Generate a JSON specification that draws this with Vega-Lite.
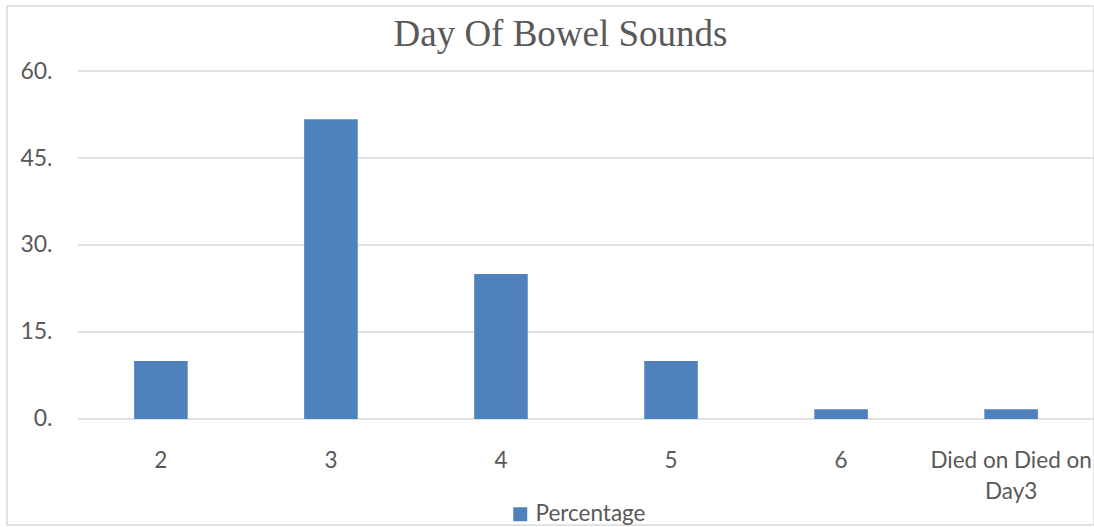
{
  "$schema": "https://vega.github.io/schema/vega-lite/v6.json",
  "width": 1087,
  "height": 519,
  "autosize": {"type": "none"},
  "padding": {"left": 7, "top": 6, "right": 0, "bottom": 2},
  "background": "white",
  "config": {
    "view": {"stroke": "#d9d9d9", "strokeWidth": 1.5},
    "font": "Lato",
    "axisY": {
      "orient": "left",
      "offset": -47,
      "grid": false,
      "domain": false,
      "ticks": false,
      "labelPadding": 2,
      "labelFontSize": 23,
      "labelColor": "#595959",
      "title": null
    }
  },
  "datasets": {
    "days": [
      {"day": "2", "pct": 10.0, "series": "Percentage"},
      {"day": "3", "pct": 51.7, "series": "Percentage"},
      {"day": "4", "pct": 25.0, "series": "Percentage"},
      {"day": "5", "pct": 10.0, "series": "Percentage"},
      {"day": "6", "pct": 1.7, "series": "Percentage"},
      {"day": "Died on Died on Day3", "pct": 1.7, "series": "Percentage"}
    ],
    "grid": [
      {"level": 0},
      {"level": 15},
      {"level": 30},
      {"level": 45},
      {"level": 60}
    ],
    "heading": [
      {"text": "Day Of Bowel Sounds", "at": 64.3}
    ]
  },
  "layer": [
    {
      "data": {"name": "grid"},
      "mark": {"type": "rule", "color": "#d9d9d9", "strokeWidth": 1.5},
      "encoding": {
        "y": {
          "field": "level",
          "type": "quantitative",
          "scale": {"domain": [-18.276, 71.207], "nice": false, "zero": false},
          "axis": {"values": [0, 15, 30, 45, 60], "labelExpr": "datum.value + '.'", "title": null}
        },
        "x": {
          "datum": 0,
          "type": "quantitative",
          "scale": {"domain": [0, 1], "range": [71, 1087]},
          "axis": null
        },
        "x2": {"datum": 1}
      }
    },
    {
      "data": {"name": "days"},
      "mark": {"type": "bar", "color": "#4f81bd"},
      "encoding": {
        "x": {
          "field": "day",
          "type": "nominal",
          "sort": null,
          "scale": {"range": [71, 1087], "paddingInner": 0.685, "paddingOuter": 0.33},
          "axis": {
            "orient": "bottom",
            "offset": -106,
            "title": null,
            "domain": false,
            "ticks": false,
            "labelAngle": 0,
            "labelFontSize": 22.5,
            "labelColor": "#595959",
            "labelPadding": 30,
            "labelLineHeight": 31,
            "labelExpr": "datum.value == 'Died on Died on Day3' ? ['Died on Died on', 'Day3'] : datum.value"
          }
        },
        "y": {
          "field": "pct",
          "type": "quantitative",
          "scale": {"domain": [-18.276, 71.207], "nice": false, "zero": false},
          "axis": {"values": [0, 15, 30, 45, 60], "labelExpr": "datum.value + '.'", "title": null}
        },
        "color": {
          "field": "series",
          "type": "nominal",
          "scale": {"range": ["#4f81bd"]},
          "legend": {
            "orient": "none",
            "legendX": 502,
            "legendY": 497,
            "title": null,
            "symbolType": "square",
            "symbolSize": 196,
            "symbolStrokeWidth": 0,
            "labelFontSize": 22.5,
            "labelColor": "#595959",
            "labelOffset": 4
          }
        }
      }
    },
    {
      "data": {"name": "heading"},
      "mark": {
        "type": "text",
        "font": "Liberation Serif",
        "fontSize": 37,
        "color": "#595959",
        "align": "center",
        "baseline": "alphabetic",
        "dx": 10
      },
      "encoding": {
        "text": {"field": "text", "type": "nominal"},
        "y": {
          "field": "at",
          "type": "quantitative",
          "scale": {"domain": [-18.276, 71.207], "nice": false, "zero": false},
          "axis": {"values": [0, 15, 30, 45, 60], "labelExpr": "datum.value + '.'", "title": null}
        }
      }
    }
  ],
  "resolve": {"scale": {"x": "independent"}}
}
